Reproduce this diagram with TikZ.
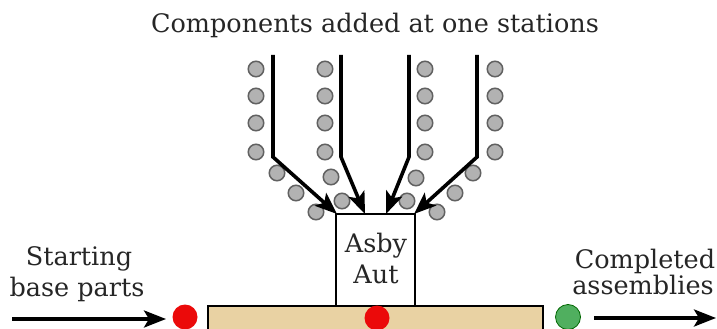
\documentclass[tikz,border=0pt]{standalone}
\usepackage{fontspec}
\setmainfont{DejaVu Serif}
\usetikzlibrary{arrows.meta}
\definecolor{tanbar}{RGB}{233,210,163}
\definecolor{redpart}{RGB}{235,10,10}
\definecolor{greenpart}{RGB}{80,175,95}
\begin{document}
\begin{tikzpicture}[x=1pt,y=-1pt,
  feed/.style={line width=3.6pt, line join=miter, -{Stealth[length=22pt,width=17pt,inset=5pt]}},
  part/.style={circle, draw=black!62, fill=black!30, line width=1.5pt, minimum size=15.5pt, inner sep=0pt},
  lbl/.style={font=\fontsize{25.5}{31}\selectfont, text=black!85, inner sep=0pt},
  base/.style={circle, minimum size=25pt, inner sep=0pt}
]
\useasboundingbox (0,0) rectangle (717,329);

% title
\node[lbl, anchor=base] (title) at (375,33) {Components added at one stations};

% base bar and station box
\node[draw, fill=tanbar, line width=1.3pt, minimum width=335pt, minimum height=28pt, inner sep=0pt] (bar) at (375.5,320) {};
\node[draw, fill=white, line width=1.3pt, minimum width=79pt, minimum height=92pt, inner sep=0pt] (asby) at (375.5,260) {};
\node[lbl, anchor=base] (t1) at (376,252) {Asby};
\node[lbl, anchor=base] (t2) at (376,283) {Aut};

% component parts
\foreach \x/\c in {256/a,325/b,425/c,495/d}{
  \foreach \y/\r in {69/1,96/2,123/3,152/4}{
    \node[part] (p\c\r) at (\x,\y) {};
  }
}
\node[part] (pe1) at (277,173) {};
\node[part] (pe2) at (296,193) {};
\node[part] (pe3) at (316,212) {};
\node[part] (pf1) at (331,177) {};
\node[part] (pf2) at (342,201) {};
\node[part] (pg1) at (416,178) {};
\node[part] (pg2) at (407,201) {};
\node[part] (ph1) at (473,173) {};
\node[part] (ph2) at (455,193) {};
\node[part] (ph3) at (437,212) {};

% feed arrows
\coordinate (s1) at (273,55);  \coordinate (b1) at (273,157); \coordinate (e1) at (337,214);
\coordinate (s2) at (341,55);  \coordinate (b2) at (341,157); \coordinate (e2) at (365,214);
\coordinate (s3) at (409,55);  \coordinate (b3) at (409,157); \coordinate (e3) at (386,214);
\coordinate (s4) at (477,55);  \coordinate (b4) at (477,157); \coordinate (e4) at (414,214);
\draw[feed] (s1) -- (b1) -- (e1);
\draw[feed] (s2) -- (b2) -- (e2);
\draw[feed] (s3) -- (b3) -- (e3);
\draw[feed] (s4) -- (b4) -- (e4);

% base parts on line
\node[base, fill=redpart] (r1) at (185,317) {};
\node[base, fill=redpart] (r2) at (377,318) {};
\node[base, fill=greenpart, draw=green!40!black, line width=0.8pt] (g1) at (568,317) {};

% in / out arrows
\coordinate (inA) at (12,319);
\coordinate (inB) at (166,319);
\draw[feed] (inA) -- (inB);
\coordinate (outA) at (594,318);
\coordinate (outB) at (716,318);
\draw[feed] (outA) -- (outB);

% labels
\node[lbl, anchor=base] (st1) at (79,265) {Starting};
\node[lbl, anchor=base] (st2) at (77,296) {base parts};
\node[lbl, anchor=base] (co1) at (645,268) {Completed};
\node[lbl, anchor=base] (co2) at (643,294) {assemblies};
\end{tikzpicture}
\end{document}
